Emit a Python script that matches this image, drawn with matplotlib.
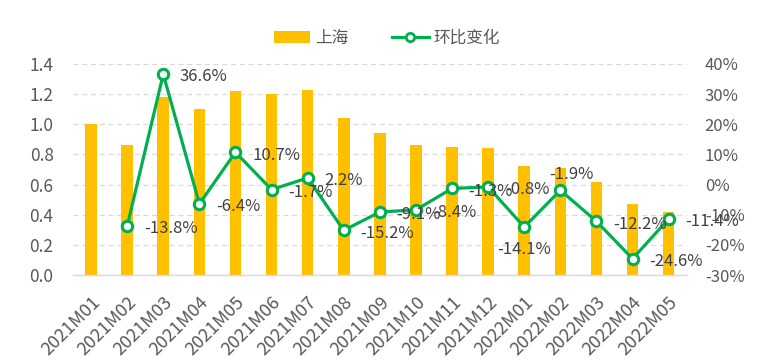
import numpy as np
import matplotlib
matplotlib.use("Agg")
import matplotlib.pyplot as plt
from matplotlib.lines import Line2D
from matplotlib.patches import Patch

plt.rcParams['font.family'] = ['Noto Sans CJK SC', 'DejaVu Sans']

categories = ["2021M01", "2021M02", "2021M03", "2021M04", "2021M05", "2021M06",
              "2021M07", "2021M08", "2021M09", "2021M10", "2021M11", "2021M12",
              "2022M01", "2022M02", "2022M03", "2022M04", "2022M05"]
shanghai = [1.00, 0.86, 1.18, 1.10, 1.22, 1.20, 1.23, 1.04, 0.94, 0.86, 0.85, 0.84,
            0.72, 0.71, 0.62, 0.47, 0.42]
mom_change = [np.nan, -13.8, 36.6, -6.4, 10.7, -1.7, 2.2, -15.2, -9.1, -8.4, -1.3, -0.8,
              -14.1, -1.9, -12.2, -24.6, -11.4]
left_ticks = [0.0, 0.2, 0.4, 0.6, 0.8, 1.0, 1.2, 1.4]
right_ticks = [-30, -20, -10, 0, 10, 20, 30, 40]

# label placement (style)
label_pos = ['right'] * 17
label_pos[12] = 'below'
label_pos[13] = 'above'

bar_color = '#FFC000'
line_color = '#00B050'
text_color = '#595959'
label_color = '#404040'

fig = plt.figure(figsize=(7.63, 3.63), dpi=100)
ax = fig.add_axes([0.0957, 0.2424, 0.8043, 0.5816])
x = np.arange(len(categories))
ax.bar(x, shanghai, width=0.32, color=bar_color, zorder=2)
ax.set_xlim(-0.5, len(categories) - 0.5)
ax.set_ylim(0, 1.4)
ax.set_yticks(left_ticks)
ax.set_yticklabels([f"{v:.1f}" for v in left_ticks])
ax.grid(axis='y', color='#D9D9D9', linestyle=(0, (4, 3)), linewidth=0.9, zorder=0)
ax.set_axisbelow(True)
for s in ['top', 'right', 'left']:
    ax.spines[s].set_visible(False)
ax.spines['bottom'].set_color('#D9D9D9')
ax.spines['bottom'].set_linewidth(1.0)
ax.tick_params(axis='y', length=0, pad=14, labelsize=12.5, labelcolor=text_color)
ax.tick_params(axis='x', length=0, pad=13, labelsize=13, labelcolor=text_color)
ax.set_xticks(x)
ax.set_xticklabels(categories, rotation=45, ha='right', va='top', rotation_mode='anchor')

ax2 = ax.twinx()
ax2.set_ylim(-30, 40)
ax2.set_yticks(right_ticks)
ax2.set_yticklabels([f"{v}%" for v in right_ticks])
for s in ['top', 'right', 'left', 'bottom']:
    ax2.spines[s].set_visible(False)
ax2.tick_params(axis='y', length=0, pad=13, labelsize=12, labelcolor=text_color)
ax2.plot(x, mom_change, color=line_color, linewidth=2.3, marker='o', markersize=7.5,
         markerfacecolor='white', markeredgecolor=line_color, markeredgewidth=2.2, zorder=3)

for xi, v, pos in zip(x, mom_change, label_pos):
    if np.isnan(v):
        continue
    txt = f"{v:.1f}%"
    if pos == 'right':
        ax2.annotate(txt, (xi, v), xytext=(12, -2), textcoords='offset points',
                     ha='left', va='center', fontsize=12, color=label_color)
    elif pos == 'below':
        ax2.annotate(txt, (xi, v), xytext=(0, -16), textcoords='offset points',
                     ha='center', va='center', fontsize=12, color=label_color)
    else:
        ax2.annotate(txt, (xi, v), xytext=(8, 11), textcoords='offset points',
                     ha='center', va='center', fontsize=12, color=label_color)

handles = [Patch(facecolor=bar_color, edgecolor='none'),
           Line2D([0], [0], color=line_color, linewidth=2.3, marker='o', markersize=6,
                  markerfacecolor='white', markeredgecolor=line_color, markeredgewidth=2)]
fig.legend(handles, ["上海", "环比变化"], loc='center', bbox_to_anchor=(0.507, 0.895),
           ncol=2, frameon=False, fontsize=12, labelcolor=text_color,
           handlelength=2.2, handleheight=0.7, columnspacing=2.6, handletextpad=0.3)

fig.savefig("out.png", dpi=100)
